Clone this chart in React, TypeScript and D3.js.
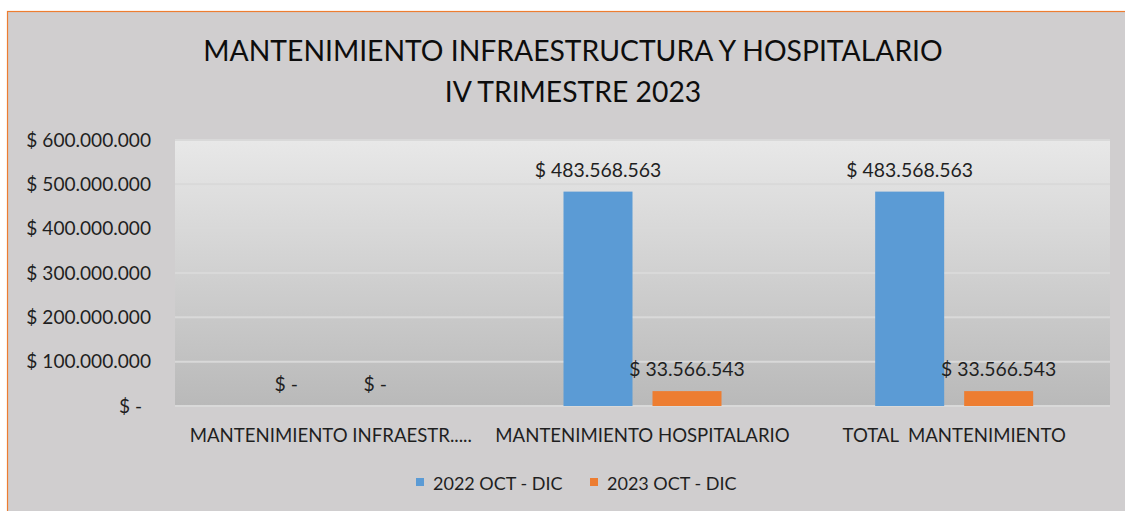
import React from 'react';
import * as d3 from 'd3';

const categories = ['MANTENIMIENTO INFRAESTR.....', 'MANTENIMIENTO HOSPITALARIO', 'TOTAL  MANTENIMIENTO'];
const seriesNames = ['2022 OCT - DIC', '2023 OCT - DIC'];
const values2022 = [0, 483568563, 483568563];
const values2023 = [0, 33566543, 33566543];
const yTicks = [0, 100000000, 200000000, 300000000, 400000000, 500000000, 600000000];
const titleLines = ['MANTENIMIENTO INFRAESTRUCTURA Y HOSPITALARIO', 'IV TRIMESTRE 2023'];

const colors = ['#5b9bd5', '#ed7d31'];
const W = 1125;
const H = 511;
const font = 'Lato, "Open Sans", sans-serif';

// peso colombiano: $ 483.568.563, cero como "$ -"
const money = (v: number) => (v === 0 ? '$ -' : '$ ' + d3.format(',')(v).replace(/,/g, '.'));

const App: React.FC = () => {
  const plot = { left: 175, right: 1110, top: 140, bottom: 406 };
  const x = d3.scaleBand().domain(categories).range([plot.left, plot.right]);
  const y = d3.scaleLinear().domain([0, 600000000]).range([plot.bottom, plot.top]);
  const barW = 69;
  const gap = 20;
  const series = [values2022, values2023];

  return (
    <div style={{ position: 'fixed', left: 0, top: 0 }}>
      <svg width={W} height={H} style={{ display: 'block', background: '#fff' }} fontFamily={font}>
        <defs>
          <linearGradient id="plotBg" x1="0" y1="0" x2="0" y2="1">
            <stop offset="0" stopColor="#e8e8e8" />
            <stop offset="1" stopColor="#b9b9b9" />
          </linearGradient>
        </defs>
        <rect x={7.5} y={11.5} width={W} height={H} fill="#d0cecf" stroke="#ed7d31" strokeWidth={1.2} />

        {titleLines.map((t, i) => (
          <text key={t} x={573} y={61 + i * 41} textAnchor="middle" fontSize={28.3} fill="#0d0d0d">
            {t}
          </text>
        ))}

        <rect x={plot.left} y={plot.top} width={plot.right - plot.left} height={plot.bottom - plot.top} fill="url(#plotBg)" />

        {yTicks.map((t) => (
          <g key={t}>
            <line x1={plot.left} x2={plot.right} y1={y(t)} y2={y(t)} stroke="#d9d9d9" strokeWidth={2} />
            <text
              x={t === 0 ? 142 : 151}
              y={y(t)}
              dy="0.35em"
              textAnchor="end"
              fontSize={19.1}
              fill="#1f1f1f"
            >
              {money(t)}
            </text>
          </g>
        ))}

        {categories.map((c, ci) => {
          const cx = (x(c) as number) + x.bandwidth() / 2;
          return (
            <g key={c}>
              {series.map((vals, si) => {
                const bx = si === 0 ? cx - gap / 2 - barW : cx + gap / 2;
                const v = vals[ci];
                return (
                  <g key={si}>
                    {v > 0 && (
                      <rect x={bx} y={y(v)} width={barW} height={y(0) - y(v)} fill={colors[si]} />
                    )}
                    <text x={bx + barW / 2} y={y(v) - 15} textAnchor="middle" fontSize={19.4} fill="#1f1f1f">
                      {money(v)}
                    </text>
                  </g>
                );
              })}
              <text x={cx} y={442} textAnchor="middle" fontSize={18.6} fill="#1f1f1f" style={{ whiteSpace: 'pre' }}>
                {c}
              </text>
            </g>
          );
        })}

        {seriesNames.map((s, i) => {
          const lx = [416, 590][i];
          return (
            <g key={s}>
              <rect x={lx} y={478} width={8} height={8} fill={colors[i]} />
              <text x={lx + 17} y={490} fontSize={18} fill="#1f1f1f">
                {s}
              </text>
            </g>
          );
        })}
      </svg>
    </div>
  );
};

export default App;
